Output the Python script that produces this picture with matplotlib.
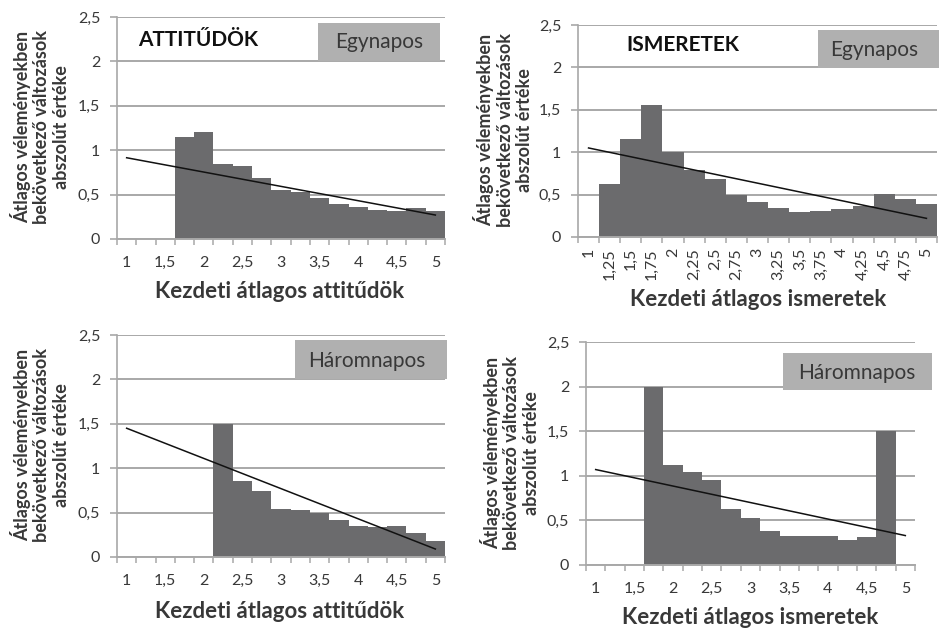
import matplotlib
matplotlib.use('Agg')
import matplotlib.pyplot as plt
from matplotlib.patches import Rectangle
import numpy as np

plt.rcParams['font.family'] = ['Lato', 'DejaVu Sans']

# categories (kezdeti átlagos érték), 1 .. 5 step 0,25
categories = ['1', '1,25', '1,5', '1,75', '2', '2,25', '2,5', '2,75', '3',
              '3,25', '3,5', '3,75', '4', '4,25', '4,5', '4,75', '5']

# bar values, None = no bar
att_egy = [None, None, None, 1.15, 1.21, 0.85, 0.82, 0.69, 0.55, 0.53, 0.46,
           0.39, 0.36, 0.33, 0.31, 0.345, 0.32]
ism_egy = [None, 0.62, 1.15, 1.56, 1.00, 0.79, 0.68, 0.49, 0.41, 0.34, 0.30,
           0.31, 0.33, 0.36, 0.51, 0.45, 0.39]
att_harom = [None, None, None, None, None, 1.50, 0.86, 0.74, 0.545, 0.53, 0.50,
             0.42, 0.35, 0.34, 0.35, 0.27, 0.18]
ism_harom = [None, None, None, 2.00, 1.12, 1.04, 0.95, 0.625, 0.53, 0.38, 0.33,
             0.33, 0.33, 0.28, 0.31, 1.50, None]

# linear trend endpoints (first and last category)
trend_att_egy = (0.915, 0.27)
trend_ism_egy = (1.05, 0.22)
trend_att_harom = (1.45, 0.09)
trend_ism_harom = (1.07, 0.33)

yticks = [0, 0.5, 1, 1.5, 2, 2.5]
ytick_labels = ['0', '0,5', '1', '1,5', '2', '2,5']

W, H = 939, 629
BAR = '#6b6b6d'
GRID = '#a8a8a8'
TXT = '#383838'
BOX = '#b0b0b0'

fig = plt.figure(figsize=(W / 100, H / 100), dpi=100)


def px_axes(x0, y0, x1, y1):
    return fig.add_axes([x0 / W, 1 - y1 / H, (x1 - x0) / W, (y1 - y0) / H])


def px(x, y):
    return x / W, 1 - y / H


def panel(ax, values, trend, every_label, rotate):
    n = len(categories)
    idx = np.arange(n)
    vals = [v if v is not None else 0 for v in values]
    ax.bar(idx, vals, width=1.0, color=BAR, linewidth=0, zorder=2)
    ax.plot([0, n - 1], trend, color='#111111', lw=1.1, zorder=3)
    ax.set_xlim(-0.5, n - 0.5)
    ax.set_ylim(0, 2.5)
    ax.set_yticks(yticks)
    ax.set_yticklabels(ytick_labels)
    ax.yaxis.grid(True, color=GRID, lw=1.4, zorder=0)
    ax.set_axisbelow(True)
    for s in ['top', 'right']:
        ax.spines[s].set_visible(False)
    ax.spines['bottom'].set_color(GRID)
    ax.spines['bottom'].set_linewidth(1.4)
    ax.spines['left'].set_color(GRID)
    ax.spines['left'].set_linewidth(1.2)
    ax.tick_params(axis='y', length=5, width=1.2, color=GRID, pad=7,
                   labelsize=11.5, labelcolor=TXT)
    if every_label:
        ax.set_xticks(idx)
        ax.set_xticklabels(categories, rotation=90 if rotate else 0)
    else:
        ax.set_xticks(idx[::2])
        ax.set_xticklabels(categories[::2])
    ax.set_xticks(np.arange(n + 1) - 0.5, minor=True)
    ax.tick_params(axis='x', which='major', length=0,
                   pad=8 if rotate else 12, labelsize=11.5, labelcolor=TXT)
    ax.tick_params(axis='x', which='minor', length=4, width=1.1, color=GRID)


ylab = 'Átlagos véleményekben\nbekövetkező változások\nabszolút értéke'

ax1 = px_axes(117, 17, 445, 239)
panel(ax1, att_egy, trend_att_egy, False, False)
ax2 = px_axes(578, 25, 937, 237)
panel(ax2, ism_egy, trend_ism_egy, True, True)
ax3 = px_axes(117, 335, 445, 557)
panel(ax3, att_harom, trend_att_harom, False, False)
ax4 = px_axes(586, 342, 915, 565)
panel(ax4, ism_harom, trend_ism_harom, False, False)

# axis titles
for (x, y, t) in [(280, 292, 'Kezdeti átlagos attitűdök'),
                  (758, 300, 'Kezdeti átlagos ismeretek'),
                  (280, 611, 'Kezdeti átlagos attitűdök'),
                  (750, 617, 'Kezdeti átlagos ismeretek')]:
    fig.text(*px(x, y), t, ha='center', va='center', fontsize=16,
             fontweight='bold', color=TXT)

for (x, y) in [(40, 127), (503, 130), (40, 445), (510, 453)]:
    fig.text(*px(x, y), ylab, ha='center', va='center', rotation=90,
             fontsize=13, fontweight='bold', color=TXT, linespacing=1.15,
             multialignment='center')

# labelled boxes
boxes = [(318, 23, 440, 61, 379, 42, 'Egynapos'),
         (818, 30, 939, 68, 874, 50, 'Egynapos'),
         (295, 340, 447, 379, 367, 361, 'Háromnapos'),
         (783, 353, 932, 390, 857, 373, 'Háromnapos')]
for (x0, y0, x1, y1, tx, ty, t) in boxes:
    fig.add_artist(Rectangle(px(x0, y1), (x1 - x0) / W, (y1 - y0) / H,
                             transform=fig.transFigure, color=BOX, lw=0))
    fig.text(*px(tx, ty), t, ha='center', va='center', fontsize=15, color=TXT)

fig.text(*px(138, 40), 'ATTITŰDÖK', ha='left', va='center', fontsize=15,
         fontweight='bold', color='#111111')
fig.text(*px(626, 45), 'ISMERETEK', ha='left', va='center', fontsize=15,
         fontweight='bold', color='#111111')

fig.savefig('out.png', dpi=100, facecolor='white')
